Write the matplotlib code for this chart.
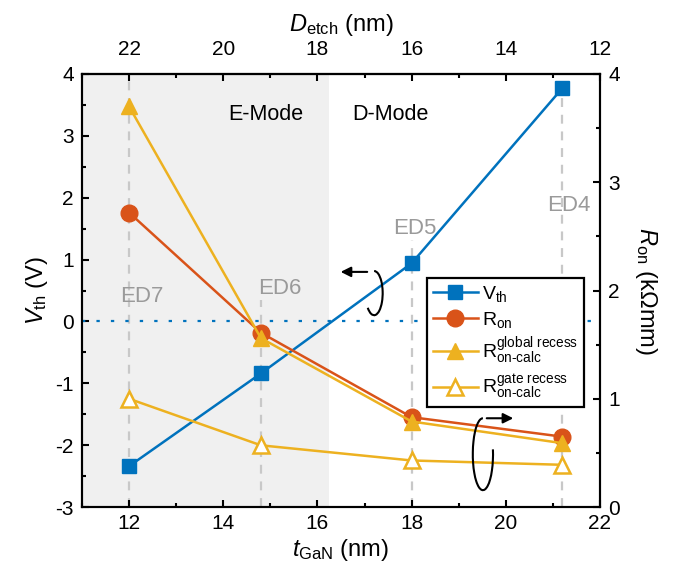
import matplotlib
matplotlib.use("Agg")
import matplotlib.pyplot as plt
from matplotlib.patches import Arc

plt.rcParams['font.family'] = ['Liberation Sans', 'DejaVu Sans']
plt.rcParams['mathtext.fontset'] = 'custom'
plt.rcParams['mathtext.rm'] = 'Liberation Sans'
plt.rcParams['mathtext.it'] = 'Liberation Sans:italic'
plt.rcParams['mathtext.bf'] = 'Liberation Sans:bold'
plt.rcParams['axes.unicode_minus'] = False

# data
t_gan = [12, 14.8, 18, 21.2]
devices = ['ED7', 'ED6', 'ED5', 'ED4']
vth = [-2.34, -0.84, 0.94, 3.77]
ron = [2.72, 1.61, 0.83, 0.65]
ron_global = [3.70, 1.56, 0.79, 0.59]
ron_gate = [1.00, 0.57, 0.43, 0.39]
guide_top = [4, 0.35, 1.32, 4]          # top of the dashed guide lines (V)
label_x = [12.28, 15.2, 18.06, 21.33]
label_y = [0.40, 0.54, 1.51, 1.88]
emode_edge = 16.25

blue = '#0072BD'
orange = '#D95319'
yellow = '#EDB120'

fig = plt.figure(figsize=(6.73, 5.84), dpi=100)
ax = fig.add_axes([0.1218, 0.1318, 0.7697, 0.7415])
ax2 = ax.twinx()

ax.axvspan(11, emode_edge, color='#f0f0f0', zorder=0, lw=0)
ax.vlines(t_gan, -3, guide_top, colors='#c8c8c8', lw=1.6,
          linestyles=(0, (4, 3.5)), zorder=1)
ax.axhline(0, color=blue, lw=1.6, ls=(0, (1.5, 5)), zorder=2)

for name, x, y in zip(devices, label_x, label_y):
    ax.text(x, y, name, color='#9a9a9a', fontsize=16, ha='center', va='center', zorder=2)

ax.text(14.9, 3.35, 'E-Mode', fontsize=15.5, ha='center', va='center')
ax.text(17.54, 3.35, 'D-Mode', fontsize=15.5, ha='center', va='center')

l1, = ax.plot(t_gan, vth, '-s', color=blue, lw=1.8, ms=10.5, zorder=3,
              label=r'V$_{\rm th}$')
l2, = ax2.plot(t_gan, ron, '-o', color=orange, lw=1.8, ms=12,
               label=r'R$_{\rm on}$')
l3, = ax2.plot(t_gan, ron_global, '-^', color=yellow, lw=1.8, ms=12,
               label='R$^{\\rm global\\ recess}_{\\rm on\u2010calc}$')
l4, = ax2.plot(t_gan, ron_gate, '-^', color=yellow, lw=1.8, ms=12, mfc='white',
               mew=1.8, label='R$^{\\rm gate\\ recess}_{\\rm on\u2010calc}$')

ax.set_xlim(11, 22)
ax.set_ylim(-3, 4)
ax2.set_ylim(0, 4)
ax.set_xticks([12, 14, 16, 18, 20, 22])
ax.set_xticks(range(11, 23), minor=True)
ax.set_yticks(range(-3, 5))
ax.set_yticks([v / 2 for v in range(-6, 9)], minor=True)
ax2.set_yticks(range(0, 5))
ax2.set_yticks([v / 2 for v in range(0, 9)], minor=True)

top = ax.secondary_xaxis('top', functions=(lambda x: 34 - x, lambda d: 34 - d))
top.set_xticks([22, 20, 18, 16, 14, 12])
top.set_xticks(range(12, 24), minor=True)

for a in (ax, ax2, top):
    a.tick_params(which='both', direction='in', labelsize=15, width=1.5)
    a.tick_params(which='major', length=5)
    a.tick_params(which='minor', length=3)
ax.tick_params(axis='y', pad=6)
ax2.tick_params(axis='y', pad=6)
ax.tick_params(axis='x', pad=5)
top.tick_params(axis='x', pad=11)
for a in (ax, ax2):
    for s in a.spines.values():
        s.set_linewidth(1.5)
top.spines['top'].set_linewidth(1.5)

ax.set_xlabel(r'$t_{\rm GaN}$ (nm)', fontsize=17, labelpad=3)
ax.set_ylabel(r'$V_{\rm th}$ (V)', fontsize=17, labelpad=4)
ax2.set_ylabel(r'$R_{\rm on}$ (k$\Omega$mm)', fontsize=17, rotation=-90, labelpad=28)
top.set_xlabel(r'$D_{\rm etch}$ (nm)', fontsize=17, labelpad=6)

# rotation arrows
ax.add_patch(Arc((0.564, 0.494), 0.033, 0.102, theta1=250, theta2=450,
                 transform=ax.transAxes, color='black', lw=1.5, zorder=4))
ax.annotate('', xy=(0.494, 0.543), xytext=(0.556, 0.543), xycoords='axes fraction',
            arrowprops=dict(arrowstyle='-|>', color='black', lw=1.5, mutation_scale=15))
ax2.add_patch(Arc((0.774, 0.122), 0.039, 0.166, theta1=90, theta2=390,
                  transform=ax2.transAxes, color='black', lw=1.5, zorder=4))
ax2.annotate('', xy=(0.838, 0.205), xytext=(0.776, 0.205), xycoords='axes fraction',
             arrowprops=dict(arrowstyle='-|>', color='black', lw=1.5, mutation_scale=15))

leg = ax2.legend(handles=[l1, l2, l3, l4], loc='upper left',
                 bbox_to_anchor=(0.666, 0.529), fontsize=14, frameon=True,
                 fancybox=False, edgecolor='black', framealpha=1,
                 handlelength=2.3, borderpad=0.3, labelspacing=0.3,
                 handletextpad=0.25, borderaxespad=0)
leg.get_frame().set_linewidth(1.6)
leg.set_zorder(10)

fig.savefig('out.png', dpi=100)
